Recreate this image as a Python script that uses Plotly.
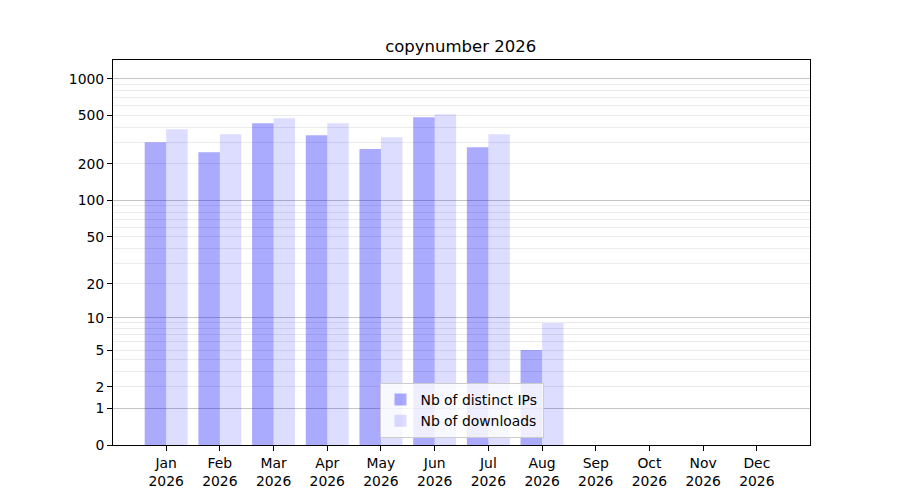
import numpy as np
import plotly.graph_objs as go

# Setting data
months = ["Jan", "Feb", "Mar", "Apr", "May", "Jun", "Jul", "Aug", "Sep", "Oct", "Nov", "Dec"]
year = "2026"
distinct_ips = [302, 250, 433, 345, 265, 485, 275, 5, 0, 0, 0, 0]
downloads = [386, 351, 475, 433, 332, 513, 351, 9, 0, 0, 0, 0]

y_labels = [0, 1, 2, 5, 10, 20, 50, 100, 200, 500, 1000]
y_major = [1, 10, 100, 1000]
y_minor = [2, 3, 4, 5, 6, 7, 8, 9,
           20, 30, 40, 50, 60, 70, 80, 90,
           200, 300, 400, 500, 600, 700, 800, 900]


# y axis is log10(1 + n), like the original symlog-ish scale
def scale(v):
    return np.log10(1 + np.asarray(v, dtype=float))


x = list(range(len(months)))
tick_text = [m + "<br>" + year for m in months]
font = "DejaVu Sans, Liberation Sans, sans-serif"

data = [
    go.Bar(
        x=x, y=scale(distinct_ips), name="Nb of distinct IPs",
        width=0.4, offset=-0.4,
        marker=dict(color="rgba(0,0,255,0.333)", line=dict(width=0)),
        customdata=distinct_ips, hovertemplate="%{customdata}",
    ),
    # on the overlay axis, which carries the darker major grid
    go.Bar(
        x=x, y=scale(downloads), name="Nb of downloads", yaxis="y2",
        width=0.4, offset=0,
        marker=dict(color="rgba(0,0,255,0.133)", line=dict(width=0)),
        customdata=downloads, hovertemplate="%{customdata}",
    ),
]

y_range = [0, 3.155]

# the page body has an 8px margin, so the margins are shifted to match
layout = go.Layout(
    width=900, height=500,
    margin=dict(l=105, r=98, t=52, b=63),
    paper_bgcolor="white", plot_bgcolor="white",
    font=dict(family=font, size=13.9, color="black"),
    title=dict(text="copynumber 2026", x=0.503, xanchor="center",
               y=1 - 38 / 500, yanchor="middle", font=dict(size=16.5)),
    showlegend=True,
    legend=dict(x=0.5, xanchor="center", y=0.018, yanchor="bottom",
                bgcolor="rgba(255,255,255,0.8)", bordercolor="#cccccc",
                borderwidth=1, font=dict(size=13.9), tracegroupgap=0),
    xaxis=dict(
        range=[-0.99, 11.99], tickvals=x, ticktext=tick_text,
        showgrid=False, zeroline=False,
        showline=True, mirror=True, linecolor="black", linewidth=1,
        ticks="outside", ticklen=5, tickwidth=1, tickcolor="black",
    ),
    yaxis=dict(
        range=y_range, tickvals=scale(y_labels), ticktext=[str(v) for v in y_labels],
        showgrid=False, zeroline=False,
        showline=True, mirror=True, linecolor="black", linewidth=1,
        ticks="outside", ticklen=5, tickwidth=1, tickcolor="black",
        minor=dict(tickvals=scale(y_minor), showgrid=True,
                   gridcolor="#ebebeb", gridwidth=1, ticks=""),
    ),
    yaxis2=dict(
        range=y_range, overlaying="y", anchor="x", side="left",
        tickvals=scale(y_major), showticklabels=False, ticks="",
        showgrid=True, gridcolor="#c4c4c4", gridwidth=1,
        zeroline=False, showline=False,
    ),
)

fig = go.Figure(data=data, layout=layout)
fig.write_html("out.html")
